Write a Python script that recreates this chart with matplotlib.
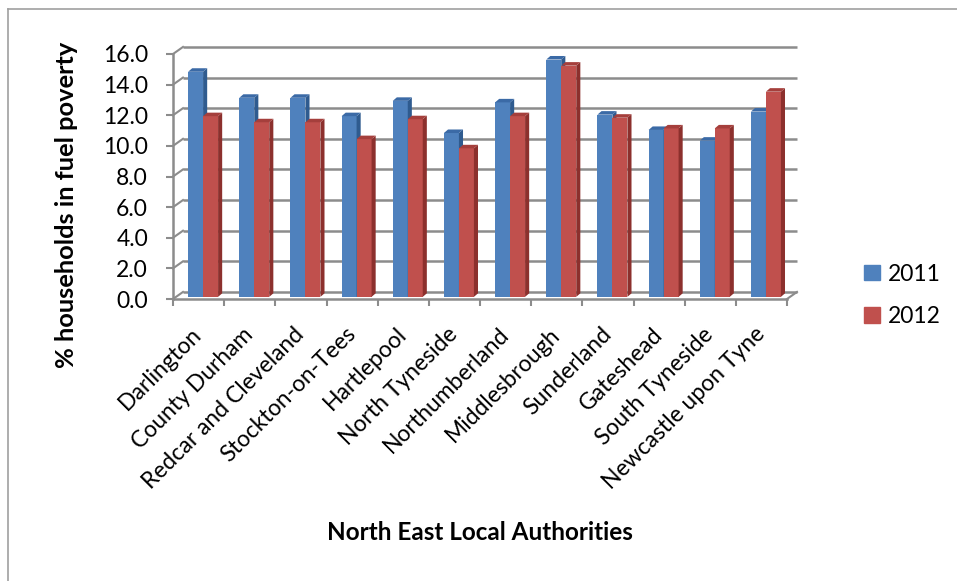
import numpy as np
import matplotlib
matplotlib.use('Agg')
import matplotlib.pyplot as plt
from matplotlib.patches import Polygon, Patch
from matplotlib.lines import Line2D
from matplotlib.transforms import ScaledTranslation

# data
authorities = ['Darlington', 'County Durham', 'Redcar and Cleveland', 'Stockton-on-Tees',
               'Hartlepool', 'North Tyneside', 'Northumberland', 'Middlesbrough',
               'Sunderland', 'Gateshead', 'South Tyneside', 'Newcastle upon Tyne']
pct_2011 = [14.7, 13.0, 13.0, 11.8, 12.8, 10.7, 12.7, 15.5, 11.9, 10.9, 10.2, 12.1]
pct_2012 = [11.8, 11.4, 11.4, 10.3, 11.6, 9.7, 11.8, 15.1, 11.7, 11.0, 11.0, 13.4]
years = ['2011', '2012']
y_ticks = np.arange(0, 16.1, 2)

plt.rcParams['font.family'] = ['Lato', 'DejaVu Sans']

fig = plt.figure(figsize=(9.57, 5.81), dpi=100)
ax = fig.add_axes([173/957, 1 - 299/581, 614/957, 245/581])
n = len(authorities)
ax.set_xlim(-0.5, n - 0.5)
ax.set_ylim(0, 16)

grid_col = '#8c8c8c'
# fake 3d: back wall offset and bar depth, in data units
wall_dx, wall_dy = 0.195, 0.46
bar_w = 0.293
bar_dx, bar_dy = 0.088, 0.14
depth_dx, depth_dy = 0.08, 0.23

# back wall gridlines + left wall diagonals
for yv in y_ticks:
    ax.plot([-0.5 + wall_dx, n - 0.5 + wall_dx], [yv + wall_dy, yv + wall_dy],
            color=grid_col, lw=1.8, clip_on=False, zorder=1, solid_capstyle='butt')
    ax.plot([-0.5, -0.5 + wall_dx], [yv, yv + wall_dy],
            color=grid_col, lw=1.5, clip_on=False, zorder=1)
# floor front edge and right diagonal
ax.plot([-0.5, n - 0.5], [0, 0], color=grid_col, lw=1.8, clip_on=False, zorder=1)
ax.plot([n - 0.5, n - 0.5 + wall_dx], [0, wall_dy], color=grid_col, lw=1.5,
        clip_on=False, zorder=1)

series = [(pct_2011, '#4f81bd', '#2f5b8f', '#3b6aa6'),
          (pct_2012, '#c0504d', '#8c302d', '#a53f3c')]

for i in range(n):
    for k, (vals, front, side, top) in enumerate(series):
        left = i + bar_dx - bar_w + k * bar_w
        right = left + bar_w
        b = bar_dy
        t = bar_dy + vals[i]
        z = 3 + i * 0.01 + k * 0.001
        ax.bar(left, vals[i], width=bar_w, bottom=b, align='edge', color=front,
               linewidth=0, zorder=z, clip_on=False)
        ax.add_patch(Polygon([(right, b), (right + depth_dx, b + depth_dy),
                              (right + depth_dx, t + depth_dy), (right, t)],
                             closed=True, facecolor=side, linewidth=0, zorder=z,
                             clip_on=False))
        ax.add_patch(Polygon([(left, t), (right, t), (right + depth_dx, t + depth_dy),
                              (left + depth_dx, t + depth_dy)],
                             closed=True, facecolor=top, linewidth=0, zorder=z,
                             clip_on=False))

# axes styling
for s in ['top', 'right', 'bottom']:
    ax.spines[s].set_visible(False)
ax.spines['left'].set_color(grid_col)
ax.spines['left'].set_linewidth(1.8)
ax.set_yticks(y_ticks)
ax.set_yticklabels(['%.1f' % v for v in y_ticks])
ax.tick_params(axis='y', length=5, width=1.5, color=grid_col, pad=13, labelsize=16.5)

ax.set_xticks(np.arange(n))
ax.set_xticks(np.arange(n + 1) - 0.5, minor=True)
ax.set_xticklabels(authorities, rotation=45, ha='right', rotation_mode='anchor',
                   va='center')
ax.tick_params(axis='x', which='major', length=0, pad=23, labelsize=16.5)
ax.tick_params(axis='x', which='minor', length=5, width=1.5, color=grid_col)
shift = ScaledTranslation(0, 0, fig.dpi_scale_trans)
for lab in ax.get_xticklabels():
    lab.set_transform(lab.get_transform() + shift)

ax.set_ylabel('% households in fuel poverty', fontsize=18.3, fontweight='bold')
ax.yaxis.set_label_coords(-0.155, 0.384)

fig.text(480/957, 1 - 532/581, 'North East Local Authorities', ha='center',
         va='center', fontsize=17.5, fontweight='bold')

handles = [Patch(color=series[0][1]), Patch(color=series[1][1])]
fig.legend(handles, years, loc='center left', bbox_to_anchor=(864/957, 1 - 295.5/581),
           frameon=False, fontsize=16.5, handlelength=0.68, handleheight=0.68,
           handletextpad=0.35, labelspacing=0.95, borderpad=0, borderaxespad=0)

# outer chart frame
fig.add_artist(Line2D([8/957, 8/957], [0, 1 - 9/581], color='#a0a0a0', lw=1.2))
fig.add_artist(Line2D([8/957, 1], [1 - 9/581, 1 - 9/581], color='#a0a0a0', lw=1.2))

fig.savefig('out.png', dpi=100)
